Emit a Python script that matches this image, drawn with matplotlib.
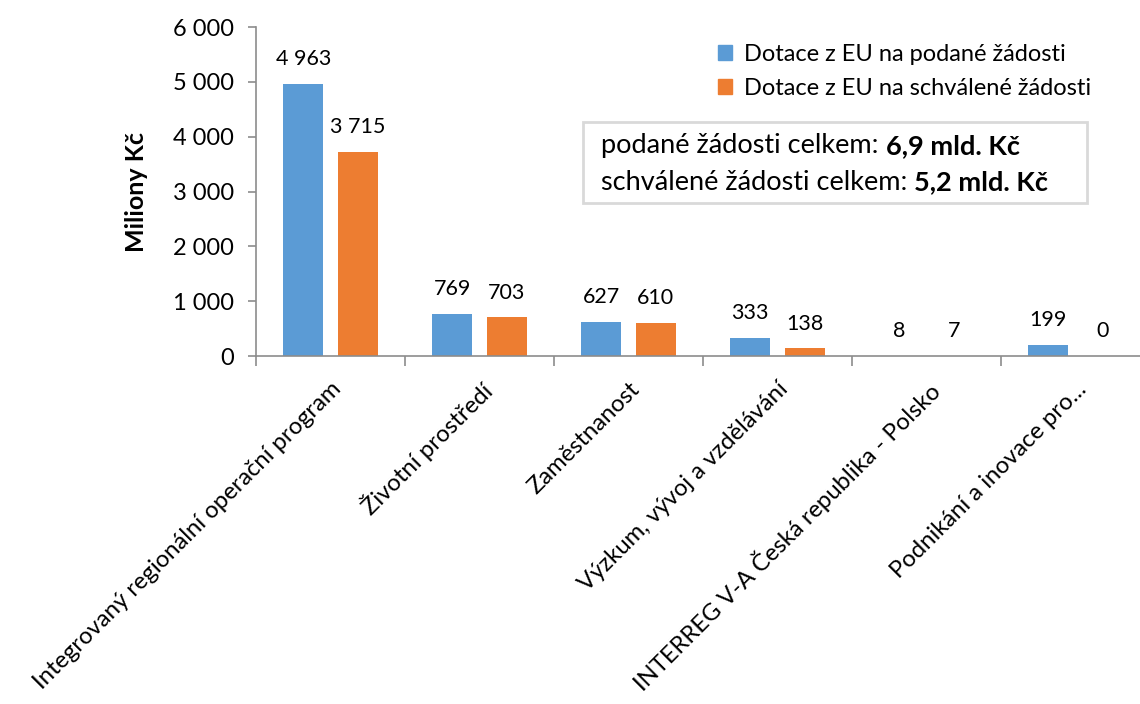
import matplotlib
matplotlib.use('Agg')
import matplotlib.pyplot as plt
from matplotlib.patches import Patch
import numpy as np

plt.rcParams['font.family'] = ['Lato', 'DejaVu Sans']

categories = ['Integrovaný regionální operační program', 'Životní prostředí',
              'Zaměstnanost', 'Výzkum, vývoj a vzdělávání',
              'INTERREG V-A Česká republika - Polsko', 'Podnikání a inovace pro...']
podane = [4963, 769, 627, 333, 8, 199]
schvalene = [3715, 703, 610, 138, 7, 0]
series_names = ['Dotace z EU na podané žádosti', 'Dotace z EU na schválené žádosti']
yticks = [0, 1000, 2000, 3000, 4000, 5000, 6000]
totals_text = [('podané žádosti celkem: ', '6,9 mld. Kč'),
               ('schválené žádosti celkem: ', '5,2 mld. Kč')]

blue = '#5b9bd5'
orange = '#ed7d31'
axis_col = '#8c8c8c'

def fmt(v):
    return f'{v:,.0f}'.replace(',', ' ')

fig = plt.figure(figsize=(11.4, 7.04), dpi=100)
ax = fig.add_axes([256 / 1140, 1 - 356 / 704, 894 / 1140, 329 / 704])

x = np.arange(len(categories))
w = 0.265
off = 0.183
b1 = ax.bar(x - off, podane, w, color=blue)
b2 = ax.bar(x + off, schvalene, w, color=orange)

# value labels above each bar
for bars, vals in ((b1, podane), (b2, schvalene)):
    for r, v in zip(bars, vals):
        ax.text(r.get_x() + r.get_width() / 2, v + 270, fmt(v),
                ha='center', va='bottom', fontsize=15.5)

ax.set_xlim(-0.5, len(categories) - 0.5)
ax.set_ylim(0, 6000)
ax.set_yticks(yticks)
ax.set_yticklabels([fmt(t) for t in yticks], fontsize=17)
ax.set_ylabel('Miliony Kč', fontsize=18, fontweight='bold', labelpad=18)

# tick marks between categories, labels at category centres
ax.set_xticks(np.arange(len(categories) + 1) - 0.5)
ax.set_xticklabels([])
ax.set_xticks(x, minor=True)
ax.set_xticklabels(categories, minor=True, rotation=45, ha='right',
                   rotation_mode='anchor', fontsize=17.2)
ax.tick_params(axis='x', which='minor', length=0, pad=16)
ax.tick_params(axis='x', which='major', length=7, color=axis_col, width=1.2)
ax.tick_params(axis='y', length=6, color=axis_col, width=1.2, pad=10)

for s in ('top', 'right'):
    ax.spines[s].set_visible(False)
for s in ('left', 'bottom'):
    ax.spines[s].set_color(axis_col)
    ax.spines[s].set_linewidth(1.2)

handles = [Patch(color=blue), Patch(color=orange)]
fig.legend(handles, series_names, loc='upper left',
           bbox_to_anchor=(697 / 1140, 1 - 23 / 704), frameon=False,
           fontsize=17, handlelength=0.6, handleheight=0.6,
           handletextpad=0.5, labelspacing=0.55)

# totals box
ys = [146, 182]
for (normal, bold), yy in zip(totals_text, ys):
    t1 = fig.text(601 / 1140, 1 - yy / 704, normal, fontsize=19.5,
                  va='center')
    ax.annotate(bold, xy=(1, 0.5), xycoords=t1, va='center', ha='left',
                fontsize=19.5, fontweight='bold', annotation_clip=False)
box = plt.Rectangle((583 / 1140, 1 - 203 / 704), 504 / 1140, 81 / 704,
                    transform=fig.transFigure, fill=False,
                    edgecolor='#d9d9d9', linewidth=2)
fig.add_artist(box)

fig.savefig('out.png', dpi=100)
